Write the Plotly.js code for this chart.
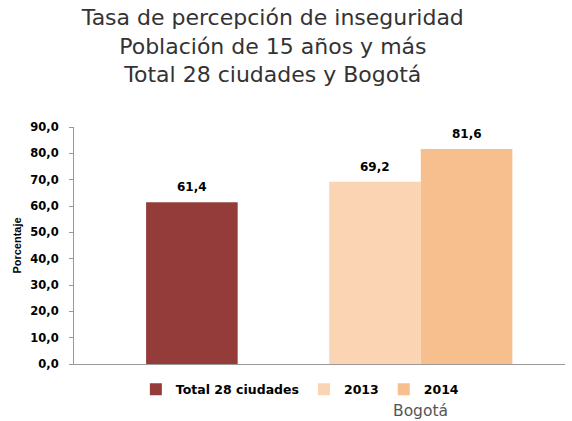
<!DOCTYPE html>
<html>
<head>
<meta charset="utf-8">
<script src="https://cdn.plot.ly/plotly-3.0.1.min.js"></script>
<style>html,body{margin:0;padding:0;background:#fff;}#chart{width:572px;height:421px;}</style>
</head>
<body>
<div id="chart"></div>
<script>
var categories = ["Total 28 ciudades", "Bogotá"];
var seriesNames = ["Total 28 ciudades", "2013", "2014"];
var totalValues = [61.4, null];
var values2013 = [null, 69.2];
var values2014 = [null, 81.6];
var yTicks = [0, 10, 20, 30, 40, 50, 60, 70, 80, 90];

var colors = ["#943C3A", "#FAD4B3", "#F8BF8E"];
var W = 0.4;
var offsets = [-W/2, -W, 0];
var seriesValues = [totalValues, values2013, values2014];

var data = seriesNames.map(function(name, i) {
  return {
    type: "bar", name: name, x: categories, y: seriesValues[i],
    marker: {color: colors[i], line: {width: 0}},
    width: W, offset: offsets[i],
    hoverinfo: "skip"
  };
});

// value labels above each bar, positioned through the axes from the data arrays
var annotations = [];
seriesValues.forEach(function(vals, i) {
  vals.forEach(function(v, j) {
    if (v === null) return;
    annotations.push({
      x: j + offsets[i] + W/2, xref: "x", y: v, yref: "y",
      text: "<b>" + v.toFixed(1).replace(".", ",") + "</b>",
      showarrow: false, xanchor: "center", yanchor: "middle", yshift: 15,
      font: {family: "DejaVu Sans, Verdana, sans-serif", size: 12, color: "#000"}
    });
  });
});
annotations.push({
  text: categories[1], x: 1, xref: "x", y: -0.2, yref: "paper",
  xanchor: "center", yanchor: "middle", showarrow: false,
  font: {family: "DejaVu Sans, Verdana, sans-serif", size: 15.5, color: "#555"}
});

var layout = {
  width: 572, height: 421,
  margin: {l: 74, r: 7, t: 127, b: 57},
  paper_bgcolor: "#fff", plot_bgcolor: "#fff",
  separators: ",.",
  barmode: "overlay",
  showlegend: true,
  title: {
    text: "Tasa de percepción de inseguridad<br>Población de 15 años y más<br>Total 28 ciudades y Bogotá",
    font: {family: "DejaVu Sans, Verdana, sans-serif", size: 22, color: "#333"},
    x: 0.477, xref: "container", xanchor: "center", y: 0.94, yanchor: "middle", yref: "container"
  },
  xaxis: {
    type: "category", range: [-0.515, 1.63],
    showticklabels: false, ticks: "", showgrid: false, zeroline: false,
    showline: true, linecolor: "#999", linewidth: 1, fixedrange: true
  },
  yaxis: {
    range: [0, 90], tickvals: yTicks, tickformat: ".1f",
    ticks: "outside", ticklen: 4, tickcolor: "#999", ticklabelstandoff: 8,
    showline: true, linecolor: "#999", linewidth: 1,
    showgrid: false, zeroline: false,
    tickfont: {family: "DejaVu Sans, Verdana, sans-serif", size: 11.5, color: "#000", weight: "bold"},
    title: {text: "<b>Porcentaje</b>", font: {family: "Liberation Sans Narrow, Liberation Sans, Arial, sans-serif", size: 11, color: "#000"}, standoff: 6}
  },
  legend: {
    orientation: "h", x: 0.46, xanchor: "center", y: -0.045, yanchor: "top",
    font: {family: "DejaVu Sans, Verdana, sans-serif", size: 12.5, color: "#000", weight: "bold"},
    itemwidth: 30, tracegroupgap: 0, bgcolor: "rgba(0,0,0,0)"
  },
  annotations: annotations
};

Plotly.newPlot("chart", data, layout, {displayModeBar: false, staticPlot: true});
</script>
</body>
</html>
